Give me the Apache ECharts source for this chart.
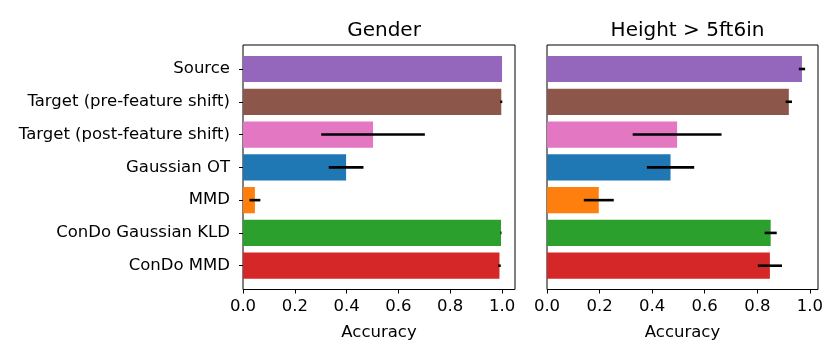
<!DOCTYPE html>
<html>
<head>
<meta charset="utf-8">
<script src="https://cdn.jsdelivr.net/npm/echarts@6/dist/echarts.min.js"></script>
<style>
  html, body { margin: 0; padding: 0; background: #fff; }
  #chart { width: 840px; height: 360px; }
</style>
</head>
<body>
<div id="chart"></div>
<script>
// methods, top to bottom
const methods = [
  'Source',
  'Target (pre-feature shift)',
  'Target (post-feature shift)',
  'Gaussian OT',
  'MMD',
  'ConDo Gaussian KLD',
  'ConDo MMD'
]
const panelTitles = ['Gender', 'Height > 5ft6in']
const xTicks = [0, 0.2, 0.4, 0.6, 0.8, 1.0]

// accuracy and its error (half width)
const genderAcc = [1.0, 0.997, 0.502, 0.398, 0.046, 0.996, 0.99]
const genderErr = [0.0, 0.004, 0.2, 0.067, 0.021, 0.002, 0.005]
const heightAcc = [0.97, 0.92, 0.495, 0.47, 0.197, 0.851, 0.848]
const heightErr = [0.012, 0.012, 0.169, 0.09, 0.057, 0.023, 0.046]

const barColors = ['#9467bd', '#8c564b', '#e377c2', '#1f77b4', '#ff7f0e', '#2ca02c', '#d62728']
const font = 'DejaVu Sans'

// frame boxes (matplotlib axes incl. margins) and inner bar areas
const panels = [
  { left: 243, right: 325, xMax: 1.05, acc: genderAcc, err: genderErr, showY: true },
  { left: 547, right: 22, xMax: 1.031, acc: heightAcc, err: heightErr, showY: false }
]
const frameTop = 45
const frameBottom = 360 - 289.5
const barTop = 52.6
const barBottom = 360 - 282.1

const chart = echarts.init(document.getElementById('chart'))

const grid = []
const xAxis = []
const yAxis = []
const series = []
const title = []

panels.forEach((p, k) => {
  // frame grid (box + x axis ticks)
  grid.push({
    left: p.left, right: p.right, top: frameTop, bottom: frameBottom,
    show: true, borderColor: '#000', borderWidth: 1, backgroundColor: 'transparent'
  })
  // bar grid
  grid.push({ left: p.left, right: p.right, top: barTop, bottom: barBottom })

  const fi = k * 2, bi = k * 2 + 1
  xAxis.push({
    gridIndex: fi, type: 'value', min: 0, max: p.xMax,
    splitLine: { show: false },
    axisLine: { show: false },
    axisTick: { show: true, length: 4, customValues: xTicks, lineStyle: { color: '#000' } },
    axisLabel: {
      customValues: xTicks, color: '#000', fontFamily: font, fontSize: 16.5, margin: 9,
      formatter: v => v.toFixed(1)
    },
    name: 'Accuracy', nameLocation: 'middle', nameGap: 35,
    nameTextStyle: { color: '#000', fontFamily: font, fontSize: 16.5 }
  })
  xAxis.push({ gridIndex: bi, type: 'value', min: 0, max: p.xMax, show: false })

  yAxis.push({ gridIndex: fi, type: 'value', min: 0, max: 1, show: false })
  yAxis.push({
    gridIndex: bi, type: 'category', data: methods, inverse: true,
    axisLine: { show: false },
    axisTick: { show: p.showY, alignWithLabel: true, length: 4, lineStyle: { color: '#000' } },
    axisLabel: { show: p.showY, color: '#000', fontFamily: font, fontSize: 16.5, margin: 13 },
    splitLine: { show: false }
  })

  series.push({
    type: 'bar', xAxisIndex: bi, yAxisIndex: bi,
    barCategoryGap: '20%',
    data: p.acc.map((v, i) => ({ value: v, itemStyle: { color: barColors[i] } })),
    silent: true
  })

  series.push({
    type: 'custom', xAxisIndex: bi, yAxisIndex: bi,
    data: p.acc.map((v, i) => [i, v - p.err[i], v + p.err[i]]),
    encode: { x: [1, 2], y: 0 },
    renderItem: (params, api) => {
      const a = api.coord([api.value(1), api.value(0)])
      const b = api.coord([api.value(2), api.value(0)])
      return {
        type: 'line',
        shape: { x1: a[0], y1: a[1], x2: b[0], y2: b[1] },
        style: { stroke: '#000', lineWidth: 2.6 }
      }
    },
    z: 5,
    silent: true
  })

  title.push({
    text: panelTitles[k],
    left: (p.left + (840 - p.right)) / 2,
    top: 16,
    textAlign: 'center',
    textStyle: { color: '#000', fontFamily: font, fontSize: 20, fontWeight: 'normal' }
  })
})

chart.setOption({
  animation: false,
  backgroundColor: '#fff',
  title: title,
  grid: grid,
  xAxis: xAxis,
  yAxis: yAxis,
  series: series
})
</script>
</body>
</html>
